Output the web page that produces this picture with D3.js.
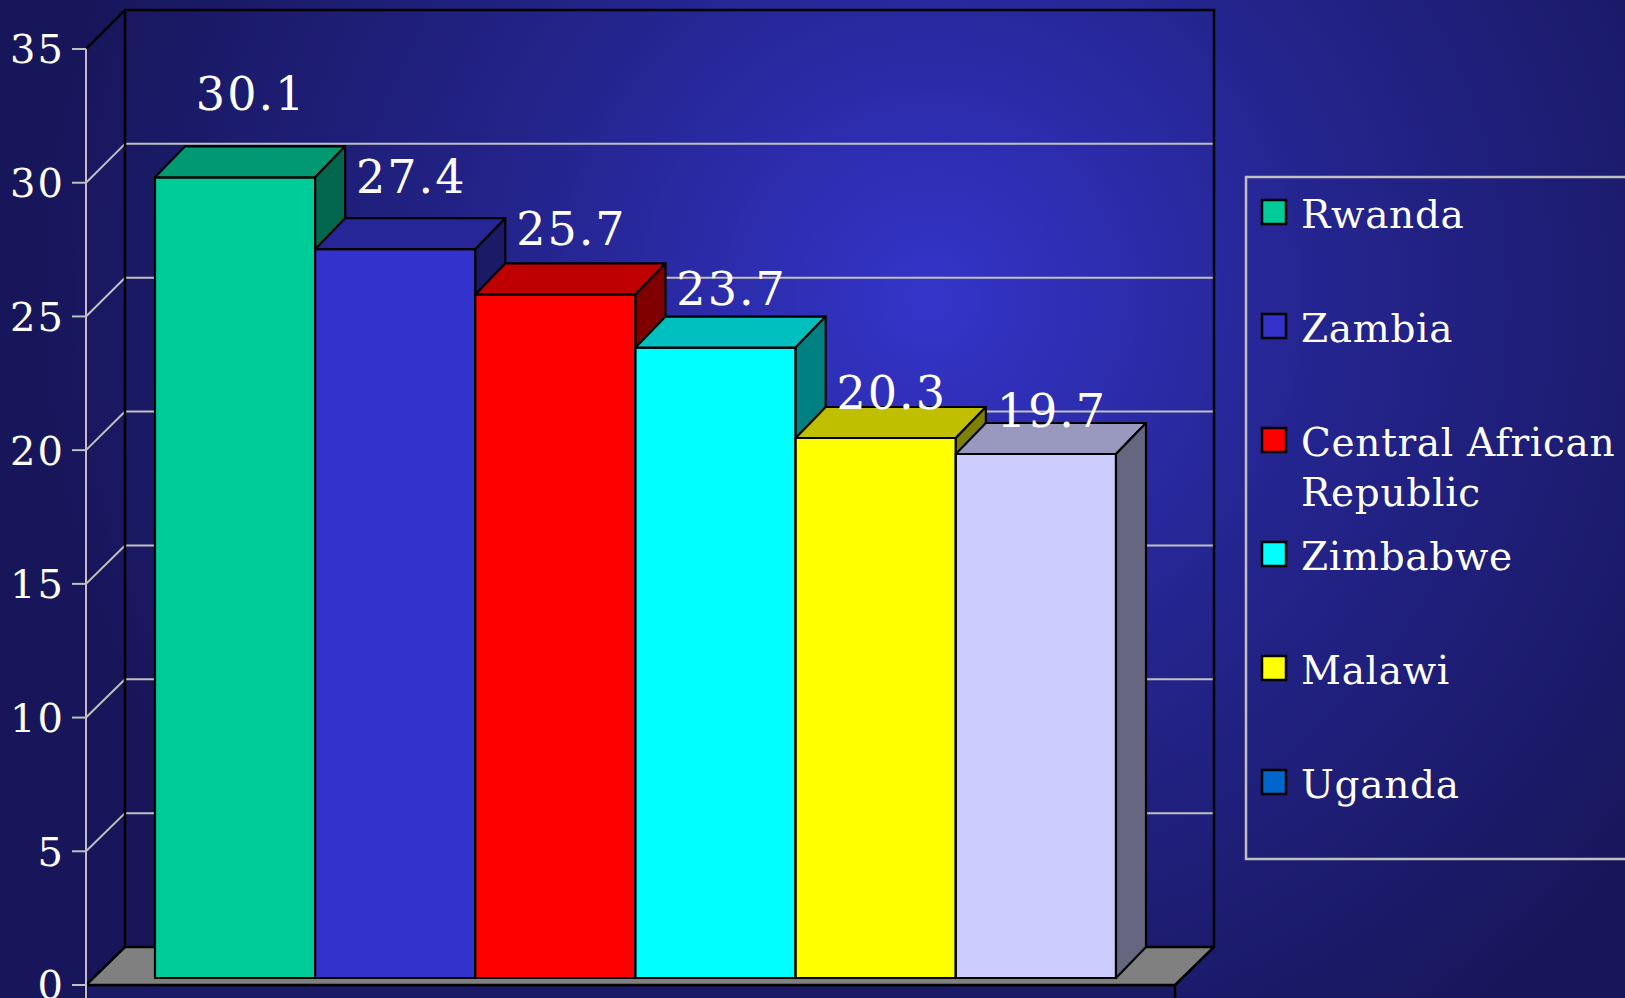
<!DOCTYPE html>
<html>
<head>
<meta charset="utf-8">
<script src="https://cdn.jsdelivr.net/npm/d3@7"></script>
<style>
  html, body { margin: 0; padding: 0; overflow: hidden; background: #1a1a66; }
  text { font-family: "DejaVu Serif", serif; fill: #fff; }
</style>
</head>
<body>
<div id="chart"></div>
<script>
// data
var countries = ["Rwanda", "Zambia", "Central African Republic", "Zimbabwe", "Malawi", "Uganda"];
var values = [30.1, 27.4, 25.7, 23.7, 20.3, 19.7];
var yTicks = [0, 5, 10, 15, 20, 25, 30, 35];
var barColors = ["#00CC99", "#3333CC", "#FF0000", "#00FFFF", "#FFFF00", "#CCCCFF"];
var legendColors = ["#00CC99", "#3333CC", "#FF0000", "#00FFFF", "#FFFF00", "#0066CC"];

var W = 1625, H = 998;

var svg = d3.select("#chart").append("svg")
	.attr("width", W)
	.attr("height", H);

// background gradient
var defs = svg.append("defs");
var grad = defs.append("radialGradient")
	.attr("id", "bg")
	.attr("gradientUnits", "userSpaceOnUse")
	.attr("cx", 930).attr("cy", 300).attr("r", 900);
grad.append("stop").attr("offset", "0%").attr("stop-color", "#3434CA");
grad.append("stop").attr("offset", "45%").attr("stop-color", "#24248E");
grad.append("stop").attr("offset", "100%").attr("stop-color", "#17165A");
svg.append("rect").attr("width", W).attr("height", H).attr("fill", "url(#bg)");

// plot geometry (front plane + depth)
var x0 = 86, x1 = 1175;          // front floor edge
var dX = 39, dY = 38;            // wall depth
var barOff = 7, barDX = 30, barDY = 31;

var y = d3.scaleLinear().domain([0, 35]).range([985, 49]);      // front axis
var yWall = d3.scaleLinear().domain([0, 35]).range([947, 10]);  // back wall
var yBar = d3.scaleLinear().domain([0, 35]).range([978, 47]);   // bar front faces
var yLabel = d3.scaleLinear().domain([0, 35]).range([1028, -39]); // data label baselines

var x = d3.scaleBand().domain(countries).range([148, 1109]).padding(0);

// floor slab front
svg.append("rect")
	.attr("x", x0).attr("y", y(0))
	.attr("width", x1 - x0).attr("height", 40)
	.attr("fill", "#1b1a66")
	.attr("stroke", "#000").attr("stroke-width", 2.5);

// back wall gridlines
var gridTicks = yTicks.filter(function(d) { return d > 0 && d < 35; });
svg.append("g").selectAll("line")
	.data(gridTicks)
	.enter().append("line")
	.attr("x1", x0 + dX).attr("x2", x1 + dX)
	.attr("y1", function(d) { return yWall(d); })
	.attr("y2", function(d) { return yWall(d); })
	.attr("stroke", "#C0C0C0").attr("stroke-width", 2);

// side wall gridlines
svg.append("g").selectAll("line")
	.data(gridTicks)
	.enter().append("line")
	.attr("x1", x0).attr("y1", function(d) { return y(d); })
	.attr("x2", x0 + dX).attr("y2", function(d) { return yWall(d); })
	.attr("stroke", "#C0C0C0").attr("stroke-width", 2);

// wall outline
svg.append("path")
	.attr("d", "M" + x0 + "," + y(35) + "L" + (x0 + dX) + "," + yWall(35) +
		"L" + (x1 + dX) + "," + yWall(35) + "L" + (x1 + dX) + "," + yWall(0) +
		"M" + (x0 + dX) + "," + yWall(35) + "L" + (x0 + dX) + "," + yWall(0))
	.attr("fill", "none").attr("stroke", "#000").attr("stroke-width", 2.5);

// floor
svg.append("path")
	.attr("d", "M" + x0 + "," + y(0) + "L" + (x0 + dX) + "," + yWall(0) +
		"L" + (x1 + dX) + "," + yWall(0) + "L" + x1 + "," + y(0) + "Z")
	.attr("fill", "#808080").attr("stroke", "#000").attr("stroke-width", 2.5)
	.attr("stroke-linejoin", "round");

// bars
function shade(c, k) {
	var r = d3.rgb(c);
	return d3.rgb(r.r * k, r.g * k, r.b * k).toString();
}

var bars = svg.append("g").selectAll("g")
	.data(values)
	.enter().append("g");

bars.each(function(d, i) {
	var g = d3.select(this);
	var l = x(countries[i]) + barOff, r = l + x.bandwidth();
	var t = yBar(d), b = yBar(0);
	// front
	g.append("rect")
		.attr("x", l).attr("y", t)
		.attr("width", r - l).attr("height", b - t)
		.attr("fill", barColors[i]);
	// top
	g.append("path")
		.attr("d", "M" + l + "," + t + "L" + (l + barDX) + "," + (t - barDY) +
			"L" + (r + barDX) + "," + (t - barDY) + "L" + r + "," + t + "Z")
		.attr("fill", shade(barColors[i], 0.75));
	// side
	g.append("path")
		.attr("d", "M" + r + "," + t + "L" + (r + barDX) + "," + (t - barDY) +
			"L" + (r + barDX) + "," + (b - barDY) + "L" + r + "," + b + "Z")
		.attr("fill", shade(barColors[i], 0.5));
	g.selectAll("rect,path")
		.attr("stroke", "#000").attr("stroke-width", 2.2)
		.attr("stroke-linejoin", "round");
});

// value labels
svg.append("g").selectAll("text")
	.data(values)
	.enter().append("text")
	.attr("x", function(d, i) { return x(countries[i]) + barOff + x.bandwidth() / 2 + 16; })
	.attr("y", function(d) { return yLabel(d); })
	.attr("text-anchor", "middle")
	.style("font-size", "46px")
	.style("letter-spacing", "2px")
	.text(function(d) { return d.toFixed(1); });

// y axis
var axis = svg.append("g");
axis.append("line")
	.attr("x1", x0).attr("x2", x0)
	.attr("y1", y(35)).attr("y2", H)
	.attr("stroke", "#C0C0C0").attr("stroke-width", 2);
axis.selectAll("line.tick")
	.data(yTicks)
	.enter().append("line")
	.attr("class", "tick")
	.attr("x1", x0 - 14).attr("x2", x0)
	.attr("y1", function(d) { return y(d); })
	.attr("y2", function(d) { return y(d); })
	.attr("stroke", "#C0C0C0").attr("stroke-width", 2);
axis.selectAll("text")
	.data(yTicks)
	.enter().append("text")
	.attr("x", 65)
	.attr("y", function(d) { return y(d); })
	.attr("dy", "0.36em")
	.attr("text-anchor", "end")
	.style("font-size", "40px")
	.style("letter-spacing", "2px")
	.text(function(d) { return d; });

// legend
var legend = svg.append("g");
legend.append("rect")
	.attr("x", 1246).attr("y", 177)
	.attr("width", 420).attr("height", 682)
	.attr("fill", "none")
	.attr("stroke", "#C0C0C0").attr("stroke-width", 2.5);

var item = legend.selectAll("g.item")
	.data(countries)
	.enter().append("g")
	.attr("class", "item")
	.attr("transform", function(d, i) { return "translate(1262," + (200 + i * 114) + ")"; });

item.append("rect")
	.attr("width", 24).attr("height", 24)
	.attr("fill", function(d, i) { return legendColors[i]; })
	.attr("stroke", "#000").attr("stroke-width", 2.5);

item.append("text")
	.attr("x", 39).attr("y", 28)
	.style("font-size", "39px")
	.style("letter-spacing", "0.7px")
	.each(function(d) {
		// wrap long names to the legend width
		var t = d3.select(this), words = d.split(" "), line = [];
		var ts = t.append("tspan").attr("x", 39).attr("dy", 0);
		words.forEach(function(w) {
			line.push(w);
			ts.text(line.join(" "));
			if (ts.node().getComputedTextLength() > 325 && line.length > 1) {
				line.pop();
				ts.text(line.join(" "));
				line = [w];
				ts = t.append("tspan").attr("x", 39).attr("dy", 50).text(w);
			}
		});
	});
</script>
</body>
</html>
